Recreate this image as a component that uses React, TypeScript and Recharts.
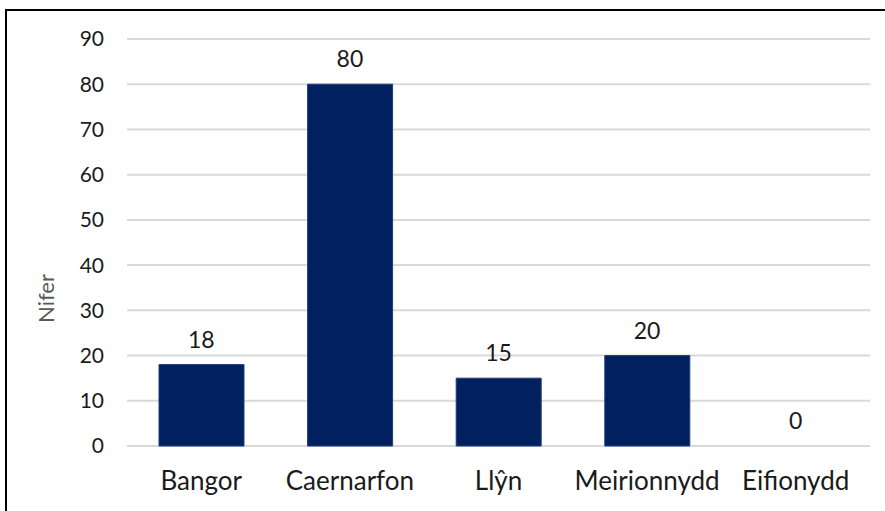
import { ComposedChart, Bar, Line, XAxis, YAxis, CartesianGrid, LabelList } from 'recharts';

const AREAS = ['Bangor', 'Caernarfon', 'Llŷn', 'Meirionnydd', 'Eifionydd'];
const COUNTS = [18, 80, 15, 20, 0];
const Y_TICKS = [0, 10, 20, 30, 40, 50, 60, 70, 80, 90];

const data = AREAS.map((name, i) => ({ name, nifer: COUNTS[i] }));

const FONT = 'Lato, "Open Sans", sans-serif';

// axis title sits a bit below the plot's middle, like the original
// eslint-disable-next-line @typescript-eslint/no-explicit-any
const NiferLabel = ({ viewBox }: any) => {
  const cx = viewBox.x + 45;
  const cy = viewBox.y + viewBox.height / 2 + 56;
  return (
    <text
      x={cx}
      y={cy}
      transform={`rotate(-90, ${cx}, ${cy})`}
      textAnchor="middle"
      dominantBaseline="central"
      fill="#595959"
      fontSize={22}
      fontFamily={FONT}
    >
      Nifer
    </text>
  );
};

export default function App() {
  return (
    <div style={{ position: 'fixed', inset: 0, overflow: 'hidden', background: '#fff' }}>
      <div
        style={{
          position: 'absolute',
          left: 5,
          top: 9,
          width: 920,
          height: 540,
          border: '2px solid #000',
        }}
      />
      <div style={{ position: 'absolute', left: 0, top: 0 }}>
        <ComposedChart
          width={885}
          height={511}
          data={data}
          margin={{ top: 39, right: 15, left: 0, bottom: 0 }}
        >
          <CartesianGrid vertical={false} stroke="#d9d9d9" strokeWidth={2} />
          <XAxis
            dataKey="name"
            height={65}
            axisLine={false}
            tickLine={false}
            tickSize={0}
            tickMargin={26}
            tick={{ fill: '#1a1a1a', fontSize: 26, fontFamily: FONT }}
            interval={0}
          />
          <YAxis
            width={127}
            domain={[0, 90]}
            ticks={Y_TICKS}
            axisLine={false}
            tickLine={false}
            tickSize={0}
            tickMargin={23}
            tick={{ fill: '#1a1a1a', fontSize: 21, fontFamily: FONT }}
            label={<NiferLabel />}
          />
          <Bar dataKey="nifer" fill="#002060" stroke="#1f3d7a" strokeWidth={1} barSize={85} isAnimationActive={false} />
          {/* invisible line only carries the value labels (so the 0 gets one too) */}
          <Line dataKey="nifer" stroke="none" dot={false} activeDot={false} isAnimationActive={false}>
            <LabelList
              dataKey="nifer"
              position="top"
              offset={17}
              fill="#1a1a1a"
              fontSize={23}
              fontFamily={FONT}
            />
          </Line>
        </ComposedChart>
      </div>
    </div>
  );
}
